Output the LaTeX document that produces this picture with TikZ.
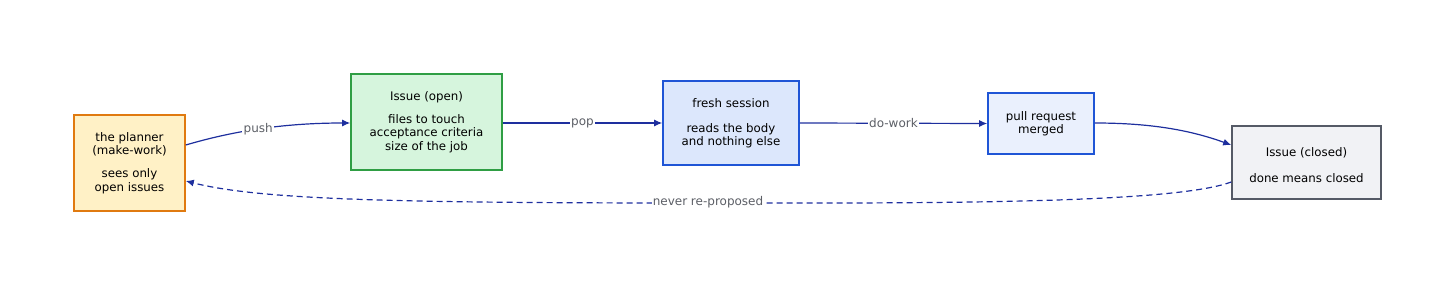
\documentclass[tikz,border=0pt]{standalone}
\usepackage{fontspec}
\setmainfont{DejaVu Sans}
\usetikzlibrary{arrows.meta}
\definecolor{arrowc}{HTML}{1E2F9E}
\definecolor{labc}{HTML}{5C5F66}
\definecolor{ylwfill}{HTML}{FFF1C6}
\definecolor{ylwdraw}{HTML}{E07A10}
\definecolor{grnfill}{HTML}{D6F5DD}
\definecolor{grndraw}{HTML}{2F9E44}
\definecolor{blufill}{HTML}{DCE7FC}
\definecolor{bludraw}{HTML}{1F55D6}
\definecolor{bl2fill}{HTML}{EAF0FD}
\definecolor{gryfill}{HTML}{F1F2F5}
\definecolor{grydraw}{HTML}{555A66}
\begin{document}
\begin{tikzpicture}[x=1pt,y=-1pt,
  box/.style={draw, line width=1.6pt, rectangle, align=center, inner sep=0pt,
    font=\fontsize{11.8}{13.2}\selectfont, text=black},
  conn/.style={draw=arrowc, line width=1.2pt, -{Latex[length=8pt,width=7pt]}},
  lab/.style={fill=white, text=labc, inner sep=1.5pt, font=\fontsize{12}{12}\selectfont}]
\useasboundingbox (0,0) rectangle (1456,286);
\node[box, fill=ylwfill, draw=ylwdraw, minimum width=111pt, minimum height=96pt] (plan) at (129.5,163) {the planner\\(make-work)\\[10pt]sees only\\open issues};
\node[box, fill=grnfill, draw=grndraw, minimum width=151pt, minimum height=96pt] (open) at (426.5,122) {Issue (open)\\[10pt]files to touch\\acceptance criteria\\size of the job};
\node[box, fill=blufill, draw=bludraw, minimum width=136pt, minimum height=84pt] (fresh) at (731,123) {fresh session\\[12pt]reads the body\\and nothing else};
\node[box, fill=bl2fill, draw=bludraw, minimum width=106pt, minimum height=61pt] (pr) at (1041,123.5) {pull request\\merged};
\node[box, fill=gryfill, draw=grydraw, minimum width=149pt, minimum height=73pt] (closed) at (1306.5,162.5) {};
\node[font=\fontsize{11.8}{13.2}\selectfont, align=center, inner sep=0pt] (closedtxt) at (1306.5,165) {Issue (closed)\\[13pt]done means closed};
\draw[conn] (plan.east |- 0,145) .. controls (230,132) and (280,123) .. node[lab, pos=0.5]{push} (open.west |- 0,123);
\draw[conn] (open.east |- 0,123) -- node[lab]{pop} (fresh.west |- 0,123);
\draw[conn] (fresh.east |- 0,123) -- node[lab]{do-work} (pr.west);
\draw[conn] (pr.east |- 0,123) .. controls (1150,123) and (1190,130) .. (closed.west |- 0,145);
\draw[conn, dashed, dash pattern=on 6pt off 4pt] (closed.west |- 0,182) .. controls (1170,205) and (900,203) .. (700,203) .. controls (400,203) and (260,200) .. (plan.east |- 0,181);
\node[lab, inner xsep=1pt] (nrp) at (708,202) {never re-proposed};
\end{tikzpicture}
\end{document}
